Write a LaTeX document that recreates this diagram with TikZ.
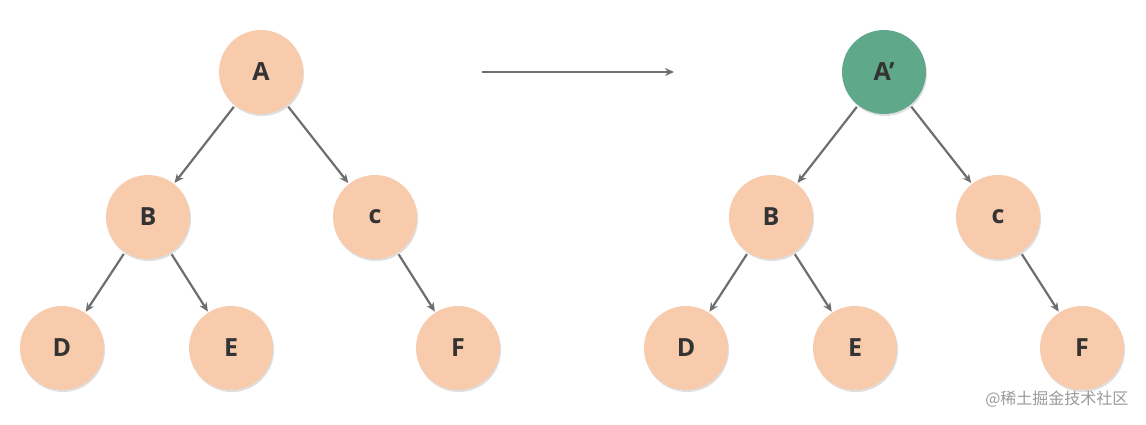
\documentclass[tikz,border=0pt]{standalone}
\usepackage{fontspec}
\setmainfont{Open Sans}
\newfontfamily\cjk{Noto Sans CJK SC}
\usetikzlibrary{arrows.meta,shadows}
\definecolor{peach}{HTML}{F8CBAD}
\definecolor{teal}{HTML}{5FA98A}
\definecolor{txt}{HTML}{333333}
\definecolor{edge}{HTML}{6E6E6E}
\begin{document}
\begin{tikzpicture}[x=1pt,y=-1pt,
  nd/.style={circle,minimum size=84pt,inner sep=0pt,fill=peach,text=txt,
    font=\fontsize{25}{25}\selectfont\bfseries,
    drop shadow={shadow xshift=1pt,shadow yshift=-2pt,opacity=0.25}},
  gn/.style={nd,fill=teal},
  ar/.style={draw=edge,line width=2.2pt,-{Stealth[length=9pt,width=8pt]},shorten <=2pt,shorten >=1pt}]
\useasboundingbox (0,0) rectangle (1146,424);
\node[nd] (a1) at (261,72) {A};
\node[nd] (b1) at (148,217) {B};
\node[nd] (c1) at (375,217) {c};
\node[nd] (d1) at (62,348) {D};
\node[nd] (e1) at (231,348) {E};
\node[nd] (f1) at (458,348) {F};
\node[gn] (a2) at (884,72) {A’};
\node[nd] (b2) at (771,217) {B};
\node[nd] (c2) at (998,217) {c};
\node[nd] (d2) at (686,348) {D};
\node[nd] (e2) at (855,348) {E};
\node[nd] (f2) at (1082,348) {F};
\foreach \p/\q in {a1/b1,a1/c1,b1/d1,b1/e1,c1/f1,a2/b2,a2/c2,b2/d2,b2/e2,c2/f2}
  \draw[ar] (\p) -- (\q);
\coordinate (s) at (482,72);
\coordinate (t) at (674,72);
\draw[ar,shorten <=0pt,shorten >=0pt] (s) -- (t);
\node[text=gray!80,font=\cjk\fontsize{16}{16}\selectfont,anchor=east] (wm) at (1132,399) {@稀土掘金技术社区};
\end{tikzpicture}
\end{document}
